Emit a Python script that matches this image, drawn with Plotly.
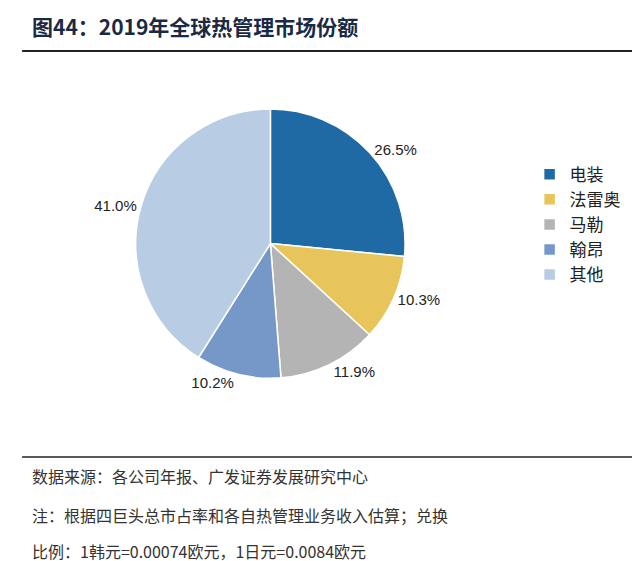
import plotly.graph_objects as go

# 2019年全球热管理市场份额
companies = ["电装", "法雷奥", "马勒", "翰昂", "其他"]
shares = [26.5, 10.3, 11.9, 10.2, 41.0]
colors = ["#1f6aa5", "#e8c55a", "#b4b4b4", "#7598c9", "#b8cce4"]

FONT = "Noto Sans CJK SC"

fig = go.Figure(go.Pie(
    labels=companies,
    values=shares,
    sort=False,
    direction="clockwise",
    rotation=0,
    marker=dict(colors=colors, line=dict(color="white", width=1.5)),
    texttemplate="%{value:.1f}%",
    textposition="outside",
    textfont=dict(family="Arial, Liberation Sans", size=15, color="#222"),
    hoverinfo="label+percent",
    domain=dict(x=[0.195, 0.625], y=[0.34, 0.82]),
))

fig.update_layout(
    width=640, height=561,
    margin=dict(l=0, r=0, t=0, b=0),
    paper_bgcolor="white",
    font=dict(family=FONT),
    legend=dict(
        x=0.815, y=0.735, xanchor="left", yanchor="top",
        font=dict(family=FONT, size=17, color="#222"),
        itemwidth=30, tracegroupgap=14,
    ),
    shapes=[
        dict(type="line", xref="paper", yref="paper", x0=0.022, x1=0.995,
             y0=1 - 43 / 561, y1=1 - 43 / 561, line=dict(color="#222", width=2)),
        dict(type="line", xref="paper", yref="paper", x0=0.022, x1=0.995,
             y0=1 - 449 / 561, y1=1 - 449 / 561, line=dict(color="#222", width=1.5)),
    ],
    annotations=[
        dict(text="<b>图44：2019年全球热管理市场份额</b>", x=0.035, y=1 - 18 / 561,
             xref="paper", yref="paper", xanchor="left", yanchor="middle",
             showarrow=False, font=dict(family=FONT, size=21, color="#1a2a44")),
        dict(text="数据来源：各公司年报、广发证券发展研究中心", x=0.035, y=1 - 468 / 561,
             xref="paper", yref="paper", xanchor="left", yanchor="middle",
             showarrow=False, font=dict(family=FONT, size=16, color="#333")),
        dict(text="注：根据四巨头总市占率和各自热管理业务收入估算；兑换", x=0.035, y=1 - 507 / 561,
             xref="paper", yref="paper", xanchor="left", yanchor="middle",
             showarrow=False, font=dict(family=FONT, size=16, color="#333")),
        dict(text="比例：1韩元=0.00074欧元，1日元=0.0084欧元", x=0.035, y=1 - 543 / 561,
             xref="paper", yref="paper", xanchor="left", yanchor="middle",
             showarrow=False, font=dict(family=FONT, size=16, color="#333")),
    ],
)

# separate legend groups so tracegroupgap spaces the items
fig.update_traces(legendgroup=None)
fig.write_html("out.html")
